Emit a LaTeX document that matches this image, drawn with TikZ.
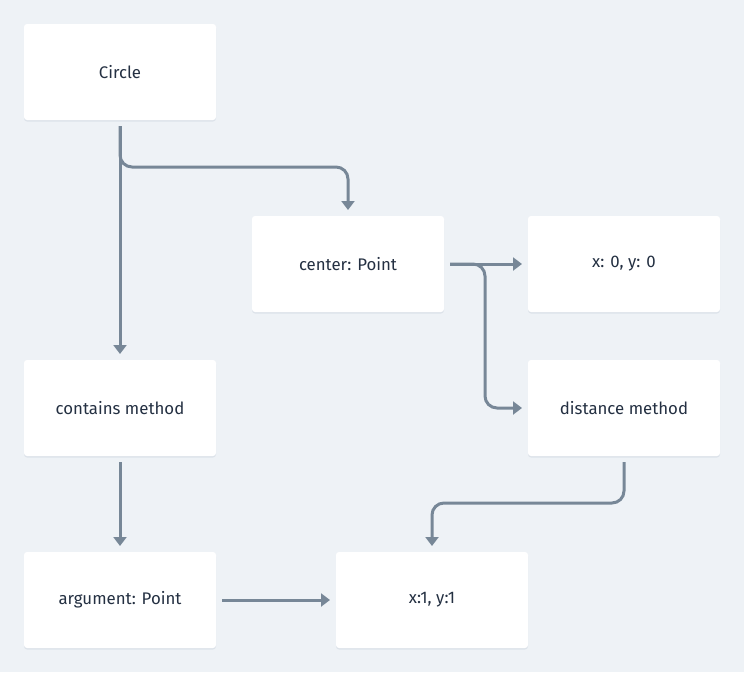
\documentclass[tikz,border=0pt]{standalone}
\usepackage{fontspec}
\setmainfont{Fira Sans}
\usetikzlibrary{arrows.meta,shadows}
\definecolor{bgc}{HTML}{EEF2F6}
\definecolor{linec}{HTML}{778797}
\definecolor{textc}{HTML}{243042}
\definecolor{shc}{HTML}{DDE3EA}
\tikzset{
  box/.style={fill=white, rounded corners=3pt, minimum width=192pt, minimum height=96pt,
    inner sep=0pt, text=textc, font=\fontsize{16.8}{20}\selectfont,
    drop shadow={shadow xshift=0pt, shadow yshift=-1.5pt, fill=shc, opacity=1}},
  conn/.style={draw=linec, line width=3pt, rounded corners=12pt,
    -{Triangle[length=9pt,width=13pt]}},
}
\begin{document}
\begin{tikzpicture}[x=1pt,y=-1pt]
\fill[bgc] (0,0) rectangle (744,672);
\useasboundingbox (0,0) rectangle (744,672);
\node[box] (circle) at (120,72) {Circle};
\node[box] (center) at (348,264) {center: Point};
\node[box] (x0) at (624,264) {x: 0, y: 0};
\node[box] (contains) at (120,408) {contains method};
\node[box] (dist) at (624,408) {distance method};
\node[box] (arg) at (120,600) {argument: Point};
\node[box] (x1) at (432,600) {x:1, y:1};
\coordinate (cs) at (120,126);
\coordinate (ct) at (120,354);
\draw[conn] (cs) -- (ct);
\draw[conn] (cs) -- (120,167) -- (348,167) -- (348,210);
\coordinate (ps) at (450,264);
\draw[conn] (ps) -- (522,264);
\draw[conn] (ps) -- (485,264) -- (485,408) -- (522,408);
\draw[conn] (120,462) -- (120,546);
\draw[conn] (222,600) -- (330,600);
\draw[conn] (624,462) -- (624,503) -- (432,503) -- (432,546);
\end{tikzpicture}
\end{document}
